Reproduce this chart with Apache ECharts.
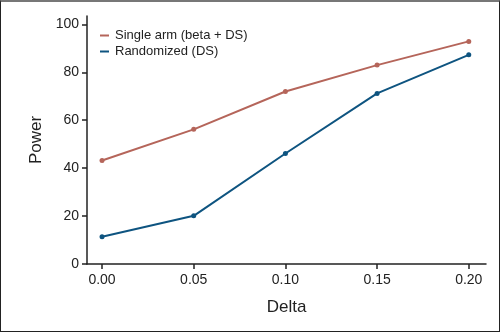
<!DOCTYPE html>
<html>
<head>
<meta charset="utf-8">
<script src="https://cdn.jsdelivr.net/npm/echarts@6/dist/echarts.min.js"></script>
<style>
html,body{margin:0;padding:0;background:#fff;}
#frame{position:absolute;left:0;top:0;width:500px;height:332px;box-sizing:border-box;border:1.5px solid #222;border-top:2px solid #777;}
#chart{position:absolute;left:0;top:0;width:500px;height:332px;}
</style>
</head>
<body>
<div id="chart"></div>
<div id="frame"></div>
<script>
const deltas = [0.00, 0.05, 0.10, 0.15, 0.20];
const singleArm = [43.2, 56.2, 72.0, 83.0, 92.9];
const randomized = [11.4, 20.1, 46.1, 71.2, 87.3];
const xTicks = [0.00, 0.05, 0.10, 0.15, 0.20];
const yTicks = [0, 20, 40, 60, 80, 100];
const seriesNames = ['Single arm (beta + DS)', 'Randomized (DS)'];

const font = 'Liberation Sans, Arial, Helvetica, sans-serif';
const axisColor = '#222';
const textColor = '#222';

const chart = echarts.init(document.getElementById('chart'), null, {renderer: 'canvas'});
chart.setOption({
  animation: false,
  backgroundColor: '#fff',
  textStyle: {fontFamily: font},
  grid: {left: 87, right: 14, top: 16, bottom: 68, containLabel: false},
  legend: {
    orient: 'vertical',
    left: 95,
    top: 24,
    itemWidth: 9,
    itemHeight: 2,
    itemGap: 3,
    icon: 'rect',
    data: seriesNames,
    textStyle: {fontFamily: font, fontSize: 13, color: textColor, padding: [0, 0, 0, 1]}
  },
  xAxis: {
    type: 'value',
    min: -0.0082,
    max: 0.2094,
    name: 'Delta',
    nameLocation: 'middle',
    nameGap: 35,
    nameTextStyle: {fontFamily: font, fontSize: 17, color: textColor},
    splitLine: {show: false},
    axisLine: {show: true, onZero: false, lineStyle: {color: axisColor, width: 1.5}},
    axisTick: {show: true, length: 5, lineStyle: {color: axisColor, width: 1.5}, customValues: xTicks},
    axisLabel: {fontFamily: font, fontSize: 14, color: textColor, margin: 9, customValues: xTicks,
      formatter: v => v.toFixed(2)}
  },
  yAxis: {
    type: 'value',
    min: 0,
    max: 103.5,
    name: 'Power',
    nameLocation: 'middle',
    nameGap: 40,
    nameRotate: 90,
    nameTextStyle: {fontFamily: font, fontSize: 17, color: textColor},
    splitLine: {show: false},
    axisLine: {show: true, onZero: false, lineStyle: {color: axisColor, width: 1.5}},
    axisTick: {show: true, length: 5, lineStyle: {color: axisColor, width: 1.5}, customValues: yTicks},
    axisLabel: {fontFamily: font, fontSize: 14, color: textColor, margin: 8, customValues: yTicks}
  },
  series: [
    {
      name: seriesNames[0],
      type: 'line',
      data: deltas.map((d, i) => [d, singleArm[i]]),
      symbol: 'circle',
      symbolSize: 5,
      lineStyle: {color: '#B5655A', width: 2},
      itemStyle: {color: '#B5655A'}
    },
    {
      name: seriesNames[1],
      type: 'line',
      data: deltas.map((d, i) => [d, randomized[i]]),
      symbol: 'circle',
      symbolSize: 5,
      lineStyle: {color: '#0E5480', width: 2},
      itemStyle: {color: '#0E5480'}
    }
  ]
});
</script>
</body>
</html>
